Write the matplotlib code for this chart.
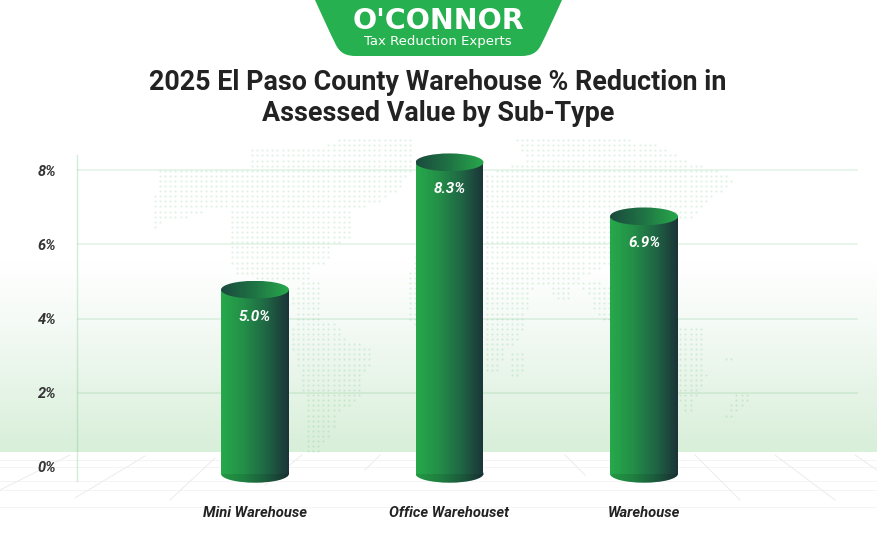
import numpy as np
import matplotlib
matplotlib.use("Agg")
import matplotlib.pyplot as plt
from matplotlib.colors import LinearSegmentedColormap
from matplotlib.patches import Ellipse, PathPatch, Rectangle
from matplotlib.path import Path

categories = ["Mini Warehouse", "Office Warehouset", "Warehouse"]
values = [5.0, 8.3, 6.9]
value_labels = ["5.0%", "8.3%", "6.9%"]
y_ticks = [0, 2, 4, 6, 8]
y_tick_labels = ["0%", "2%", "4%", "6%", "8%"]
title = "2025 El Paso County Warehouse % Reduction in\nAssessed Value by Sub-Type"

W, H = 877, 540
plt.rcParams["font.family"] = ["Roboto", "DejaVu Sans"]

fig = plt.figure(figsize=(W / 100, H / 100), dpi=100, facecolor="white")

# background layer, in pixels
bg = fig.add_axes([0, 0, 1, 1])
bg.set_xlim(0, W)
bg.set_ylim(H, 0)
bg.axis("off")

wash = LinearSegmentedColormap.from_list("wash", ["#ffffff", "#f4faf5", "#e6f4e7", "#d8efd9"])
bg.imshow(np.linspace(0, 1, 200).reshape(-1, 1), cmap=wash, aspect="auto",
          extent=[0, W, 452, 262], zorder=0)
bg.set_xlim(0, W)
bg.set_ylim(H, 0)

# dotted world map
land = [
    [(160, 170), (247, 170), (247, 147), (323, 147), (340, 137), (413, 137), (413, 172), (395, 192), (375, 205),
     (350, 210), (352, 240), (330, 245), (328, 263), (310, 268), (310, 280), (232, 277), (230, 212), (215, 208),
     (190, 215), (185, 222), (165, 220), (160, 200)],
    [(150, 195), (165, 195), (165, 222), (155, 228)],
    [(300, 280), (322, 280), (322, 322), (296, 322), (292, 300)],
    [(293, 322), (335, 322), (345, 338), (375, 350), (372, 362), (362, 378), (358, 402), (338, 412), (335, 428),
     (322, 445), (320, 452), (308, 452), (306, 415), (300, 375), (292, 352)],
    [(420, 175), (490, 172), (527, 160), (515, 140), (570, 140), (610, 135), (660, 146), (680, 158), (717, 170),
     (735, 178), (718, 195), (703, 205), (690, 218), (675, 222), (668, 252), (640, 262), (600, 268), (582, 278),
     (610, 286), (612, 320), (596, 318), (590, 296), (572, 282), (570, 300), (556, 300), (545, 282), (528, 296),
     (530, 302), (520, 342), (505, 350), (500, 372), (487, 372), (478, 342), (405, 322), (405, 285), (420, 240),
     (435, 205), (420, 195)],
    [(510, 353), (525, 353), (522, 375), (511, 375)],
    [(676, 326), (703, 328), (706, 376), (695, 400), (690, 412), (683, 412), (678, 395), (676, 360)],
    [(724, 357), (733, 357), (733, 361), (724, 361)],
    [(738, 392), (752, 392), (745, 403), (738, 410), (730, 418), (722, 418), (730, 405)],
]
gx, gy = np.meshgrid(np.arange(150, 770, 5.1), np.arange(130, 456, 5.1))
pts = np.column_stack([gx.ravel(), gy.ravel()])
inside = np.zeros(len(pts), dtype=bool)
for poly in land:
    inside |= Path(poly).contains_points(pts)
bg.scatter(pts[inside, 0], pts[inside, 1], s=2.4, color="#2aa84a", alpha=0.15, linewidths=0, zorder=1)

# floor lines
for fy in [460, 467, 481, 490, 507]:
    bg.plot([0, W], [fy, fy], color="#f0f0f0", lw=0.7, alpha=0.7, zorder=1)
floor = [((70, 455), (0, 490)), ((145, 456), (75, 498)), ((215, 458), (170, 500)), ((302, 455), (265, 485)),
         ((380, 455), (365, 470)), ((565, 455), (585, 475)), ((695, 455), (740, 500)), ((775, 455), (835, 500)),
         ((855, 455), (877, 470))]
for a, b in floor:
    bg.plot([a[0], b[0]], [a[1], b[1]], color="#eeeeee", lw=0.8, zorder=1)

# logo banner
banner = Path([(315, 0), (325, 22), (330, 33), (336, 45), (340, 53), (346, 56), (356, 56), (521, 56),
               (531, 56), (537, 53), (541, 45), (547, 33), (552, 22), (562, 0), (315, 0)],
              [Path.MOVETO, Path.CURVE4, Path.CURVE4, Path.CURVE4, Path.CURVE4, Path.CURVE4, Path.CURVE4,
               Path.LINETO, Path.CURVE4, Path.CURVE4, Path.CURVE4, Path.CURVE4, Path.CURVE4, Path.CURVE4,
               Path.CLOSEPOLY])
bg.add_patch(PathPatch(banner, facecolor="#27b04f", edgecolor="none", zorder=2))
bg.text(438, 21, "O'CONNOR", color="white", fontsize=20.5, fontweight="bold", family="DejaVu Sans",
        ha="center", va="center", zorder=3)
bg.text(438, 41, "Tax Reduction Experts", color="white", fontsize=9.5, family="DejaVu Sans",
        ha="center", va="center", zorder=3)

bg.text(438, 98, title, color="#222222", fontsize=19.4, fontweight="bold", ha="center", va="center",
        linespacing=1.22, zorder=3)

# shared layout of both chart axes, pixels
left, right, top, bottom = 77, 858, 155, 481
rect = [left / W, 1 - bottom / H, (right - left) / W, (bottom - top) / H]
xlim = ((left - 255) / 194.5, (right - 255) / 194.5)
x = np.arange(len(categories))

# tick axes
ax = fig.add_axes(rect, facecolor="none")
ax.set_xlim(xlim)
ax.set_ylim((467 - bottom) / 37.1, (467 - top) / 37.1)
ax.set_yticks(y_ticks)
ax.set_yticklabels(y_tick_labels, fontsize=10.5, fontstyle="italic", fontweight="bold", color="#333333")
ax.set_xticks(x)
ax.set_xticklabels(categories, fontsize=10.6, fontstyle="italic", fontweight="bold", color="#222222")
ax.tick_params(axis="y", length=0, pad=15)
ax.tick_params(axis="x", length=0, pad=18)
for s in ["top", "right", "bottom"]:
    ax.spines[s].set_visible(False)
ax.spines["left"].set_color("#2aa84a")
ax.spines["left"].set_alpha(0.2)
ax.spines["left"].set_linewidth(1)
for t in y_ticks[1:]:
    ax.axhline(t, color="#2aa84a", alpha=0.14, lw=1.1)

# bars axes, the cylinders have their own scale and more room than the ticks
bar_top, bar_bottom = 140, 495
bx = fig.add_axes([left / W, 1 - bar_bottom / H, (right - left) / W, (bar_bottom - bar_top) / H], facecolor="none")
bx.axis("off")
px = 38.6
base = 473.8

side = LinearSegmentedColormap.from_list("side", ["#27a94b", "#238f48", "#1f6644", "#1b3338"])
cap = LinearSegmentedColormap.from_list("cap", ["#1b4a3e", "#1f7444", "#27a94b"])
grad = np.linspace(0, 1, 256).reshape(1, -1)
w = 68 / 194.5
ry = 8.9 / px

for i, v in enumerate(values):
    cy = v - ry
    body = Path([(i - w / 2, cy), (i + w / 2, cy), (i + w / 2, 0), (i - w / 2, 0), (i - w / 2, cy)])
    clip_rect = PathPatch(body, transform=bx.transData)
    clip_low = Ellipse((i, 0), w, 2 * ry, transform=bx.transData)
    im = bx.imshow(grad, cmap=side, aspect="auto", extent=[i - w / 2, i + w / 2, -ry, cy], zorder=3)
    im.set_clip_path(clip_rect)
    im2 = bx.imshow(grad, cmap=side, aspect="auto", extent=[i - w / 2, i + w / 2, -ry, cy], zorder=3)
    im2.set_clip_path(clip_low)
    shade = Ellipse((i, 0), w, 2 * ry, facecolor="black", edgecolor="none", alpha=0.1, zorder=4)
    bx.add_patch(shade)
    shade.set_clip_path(Rectangle((i - w / 2, -ry), w, ry, transform=bx.transData))
    im3 = bx.imshow(grad, cmap=cap, aspect="auto", extent=[i - w / 2, i + w / 2, cy - ry, cy + ry], zorder=5)
    im3.set_clip_path(Ellipse((i, cy), w, 2 * ry, transform=bx.transData))
    bx.text(i, v - 0.93, value_labels[i], color="white", fontsize=11, fontstyle="italic", fontweight="bold",
            ha="center", va="center", zorder=6)

bx.set_xlim(xlim)
bx.set_ylim((base - bar_bottom) / px, (base - bar_top) / px)

fig.savefig("out.png", dpi=100)
